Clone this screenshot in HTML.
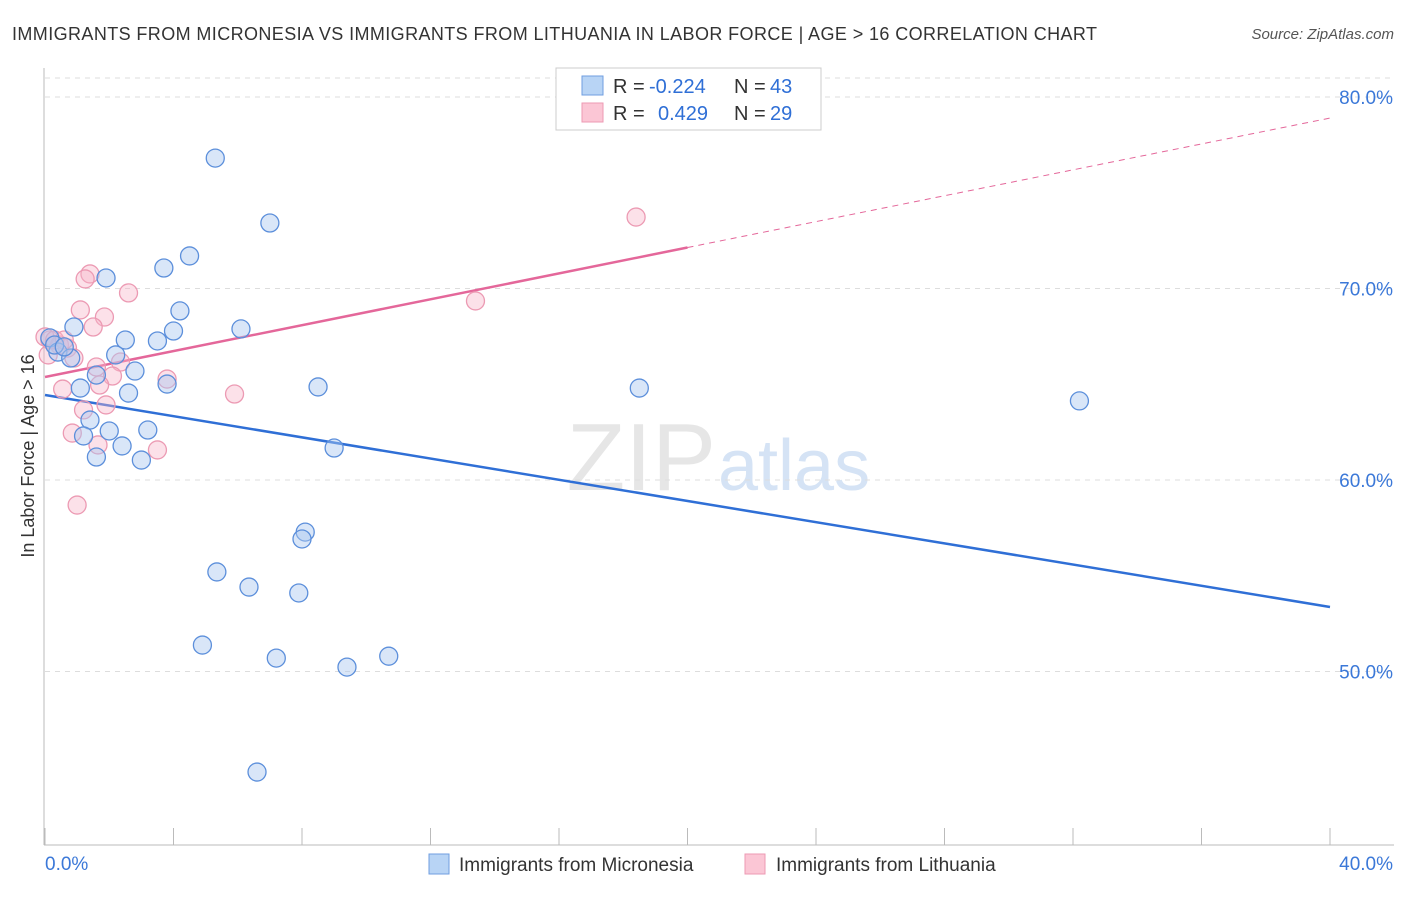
<!DOCTYPE html>
<html><head><meta charset="utf-8"><style>
body{margin:0;background:#fff;font-family:"Liberation Sans",sans-serif}
svg text{font-family:"Liberation Sans",sans-serif}
</style></head><body>
<svg id="c" width="1406" height="892">
<text x="12" y="40" font-size="18" fill="#333" textLength="1085" lengthAdjust="spacing">IMMIGRANTS FROM MICRONESIA VS IMMIGRANTS FROM LITHUANIA IN LABOR FORCE | AGE &gt; 16 CORRELATION CHART</text>
<text x="1394" y="39" font-size="15" fill="#555" font-style="italic" text-anchor="end">Source: ZipAtlas.com</text>
<text x="716" y="490" font-size="96" fill="#e6e6e6" text-anchor="end" font-family="Liberation Serif">ZIP</text>
<text x="718" y="490" font-size="72" fill="#d5e3f5">atlas</text>
<text transform="translate(34,456) rotate(-90)" font-size="18" fill="#333" text-anchor="middle">In Labor Force | Age &gt; 16</text>
<g id="grid"></g><g id="axes"></g><g id="lines"></g><g id="pts"></g>
<g>
<rect x="556" y="68" width="265" height="62" fill="#fff" stroke="#ccc"/>
<rect x="582" y="76" width="21" height="19" fill="#b8d4f5" stroke="#6f9ee0"/>
<rect x="582" y="103" width="21" height="19" fill="#fbc6d5" stroke="#ec9ab3"/>
<text x="613" y="93" font-size="20" fill="#333">R =</text>
<text x="649" y="93" font-size="20" fill="#2f6fd6">-0.224</text>
<text x="734" y="93" font-size="20" fill="#333">N =</text>
<text x="770" y="93" font-size="20" fill="#2f6fd6">43</text>
<text x="613" y="120" font-size="20" fill="#333">R =</text>
<text x="658" y="120" font-size="20" fill="#2f6fd6">0.429</text>
<text x="734" y="120" font-size="20" fill="#333">N =</text>
<text x="770" y="120" font-size="20" fill="#2f6fd6">29</text>
</g>
<g>
<rect x="429" y="854" width="20" height="20" fill="#b8d4f5" stroke="#6f9ee0"/>
<text x="459" y="871" font-size="19" fill="#333">Immigrants from Micronesia</text>
<rect x="745" y="854" width="20" height="20" fill="#fbc6d5" stroke="#ec9ab3"/>
<text x="776" y="871" font-size="19" fill="#333">Immigrants from Lithuania</text>
</g>
</svg>
<script>
const yTicks=[50,60,70,80];
const xTickLabels=["0.0%","40.0%"];
const blueX=[5.3,7.0,4.5,3.7,1.9,4.2,0.9,4.0,6.1,2.5,3.5,0.15,0.4,0.8,2.2,2.8,1.6,1.1,8.5,18.5,3.8,2.6,32.2,1.4,3.2,2.0,1.2,2.4,1.6,3.0,9.0,8.1,8.0,5.35,6.35,7.9,4.9,7.2,9.4,10.7,6.6,0.3,0.6];
const blueY=[76.81,73.42,71.70,71.07,70.55,68.83,67.99,67.78,67.89,67.31,67.26,67.42,66.68,66.37,66.53,65.69,65.48,64.80,64.86,64.80,65.01,64.54,64.13,63.13,62.61,62.56,62.30,61.78,61.20,61.04,61.67,57.28,56.92,55.20,54.41,54.10,51.38,50.70,50.23,50.80,44.75,67.05,66.95];
const pinkX=[18.4,13.4,1.4,1.25,2.6,1.1,1.85,1.5,0.15,0.0,0.45,0.7,0.9,1.6,2.35,2.1,1.7,0.55,3.8,5.9,1.9,1.2,0.85,1.65,3.5,1.0,0.1,0.3,0.6];
const pinkY=[73.73,69.35,70.76,70.50,69.77,68.88,68.51,67.99,67.31,67.47,67.05,66.89,66.37,65.90,66.16,65.43,64.96,64.75,65.27,64.49,63.92,63.66,62.45,61.83,61.57,58.69,66.53,67.31,67.31];
const blueTrend=[64.44,53.37];
const pinkTrend=[65.38,78.9];
const NS="http://www.w3.org/2000/svg";
const X=v=>45+v*32.125, Y=v=>97+(80-v)*19.15;
function mk(t,a,p){const e=document.createElementNS(NS,t);for(const k in a)e.setAttribute(k,a[k]);document.getElementById(p).appendChild(e);return e;}
yTicks.forEach(v=>{
 const l=mk('line',{x1:45,x2:1394,y1:Y(v),y2:Y(v),stroke:'#ddd','stroke-dasharray':'5,5'},'grid');
 
 
 const t=mk('text',{x:1393,y:Y(v)+7,'font-size':19,fill:'#3b78d8','text-anchor':'end'},'grid');
 t.textContent=v.toFixed(1)+'%';
 
 
});
mk('line',{x1:45,x2:1394,y1:78,y2:78,stroke:'#ddd','stroke-dasharray':'5,5'},'grid');
mk('line',{x1:44,x2:44,y1:68,y2:845,stroke:'#bbb'},'axes');
const xa=mk('line',{x1:44,x2:1394,y1:845,y2:845,stroke:'#bbb'},'axes');


for(let i=0;i<=10;i++){mk('line',{x1:X(i*4),x2:X(i*4),y1:828,y2:845,stroke:'#bbb'},'axes');}
[[0,'start',45],[40,'end',1393]].forEach((d,i)=>{const t=mk('text',{x:d[2],y:870,'font-size':19,fill:'#3b78d8','text-anchor':d[1]},'axes');t.textContent=xTickLabels[i];
 
 });
function pt(x,y,f,s,n){const c=mk('circle',{cx:X(x),cy:Y(y),r:9,fill:f,stroke:s,'stroke-width':1.3},'pts');
 
 }
pinkX.forEach((x,i)=>pt(x,pinkY[i],'rgba(248,180,200,0.4)','#ec9ab3','point-lithuania'));
blueX.forEach((x,i)=>pt(x,blueY[i],'rgba(170,200,240,0.45)','#5c8fdb','point-micronesia'));
const bl=mk('line',{x1:X(0),y1:Y(blueTrend[0]),x2:X(40),y2:Y(blueTrend[1]),stroke:'#2f6fd6','stroke-width':2.5},'lines');


const pm=(pinkTrend[0]+pinkTrend[1])/2;
const pl=mk('line',{x1:X(0),y1:Y(pinkTrend[0]),x2:X(20),y2:Y(pm),stroke:'#e4679a','stroke-width':2.5},'lines');


const pd=mk('line',{x1:X(20),y1:Y(pm),x2:X(40),y2:Y(pinkTrend[1]),stroke:'#e4679a','stroke-width':1,'stroke-dasharray':'6,5'},'lines');


</script>
</body></html>
